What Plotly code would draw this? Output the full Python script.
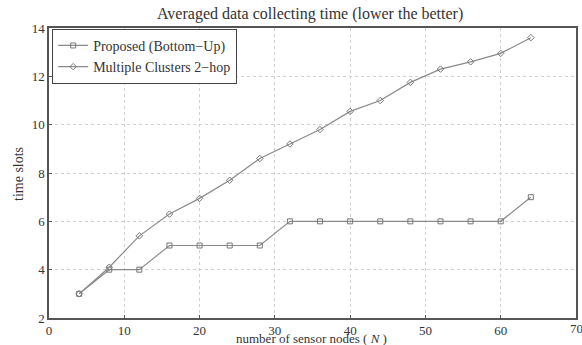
import plotly.graph_objects as go

x_nodes = [4, 8, 12, 16, 20, 24, 28, 32, 36, 40, 44, 48, 52, 56, 60, 64]
proposed = [3, 4, 4, 5, 5, 5, 5, 6, 6, 6, 6, 6, 6, 6, 6, 7]
multi_2hop = [3, 4.1, 5.4, 6.3, 6.95, 7.7, 8.6, 9.2, 9.8, 10.55, 11.0, 11.75, 12.3, 12.6, 12.95, 13.6]
x_ticks = [0, 10, 20, 30, 40, 50, 60, 70]
y_ticks = [2, 4, 6, 8, 10, 12, 14]

font_family = "Liberation Serif, Times New Roman, serif"
line_col = "#8a8a8a"
txt_col = "#333333"

fig = go.Figure()
fig.add_trace(go.Scatter(
    x=x_nodes, y=proposed, mode="lines+markers", name="Proposed (Bottom\u2212Up)",
    line=dict(color=line_col, width=1.2),
    marker=dict(symbol="square-open", size=5, color="#777777", line=dict(width=1)),
))
fig.add_trace(go.Scatter(
    x=x_nodes, y=multi_2hop, mode="lines+markers", name="Multiple Clusters 2\u2212hop",
    line=dict(color=line_col, width=1.2),
    marker=dict(symbol="diamond-open", size=5, color="#777777", line=dict(width=1)),
))

fig.update_layout(
    width=582, height=345,
    margin=dict(l=49, r=6, t=28, b=27, autoexpand=False),
    paper_bgcolor="white", plot_bgcolor="white",
    font=dict(family=font_family, size=13, color=txt_col),
    showlegend=True,
    legend=dict(x=0.006, y=0.997, xanchor="left", yanchor="top",
                bgcolor="white", bordercolor="#444444", borderwidth=1,
                font=dict(size=14, family=font_family, color=txt_col),
                tracegroupgap=0, itemwidth=30),
    annotations=[
        dict(text="Averaged data collecting time (lower the better)", xref="paper", yref="paper",
             x=(310 - 49) / 527, y=1 + 14 / 290, xanchor="center", yanchor="middle", showarrow=False,
             font=dict(size=16, family=font_family, color=txt_col)),
        dict(text="number of sensor nodes ( <i>N</i> )", xref="paper", yref="paper",
             x=(311 - 49) / 527, y=-20.5 / 290, xanchor="center", yanchor="middle", showarrow=False,
             font=dict(size=13, family=font_family, color=txt_col)),
        dict(text="time slots", xref="paper", yref="paper", textangle=-90,
             x=-31 / 527, y=(318 - 174) / 290, xanchor="center", yanchor="middle", showarrow=False,
             font=dict(size=14, family=font_family, color=txt_col)),
        dict(text=str(x_ticks[-1]), xref="x", yref="paper", x=x_ticks[-1], y=0,
             xanchor="center", yanchor="top", yshift=-1, showarrow=False,
             font=dict(size=13, family=font_family, color=txt_col)),
    ],
)
fig.update_xaxes(
    range=[0, 70], tickvals=x_ticks, ticks="inside", ticklen=3, tickcolor="#555555",
    showgrid=True, gridcolor="#d0d0d0", griddash="dot", gridwidth=1,
    showline=True, linecolor="#555555", linewidth=1.5, mirror=True,
    zeroline=False, tickfont=dict(size=13), automargin=False,
)
fig.update_yaxes(
    range=[2, 14], tickvals=y_ticks, ticks="inside", ticklen=3, tickcolor="#555555",
    showgrid=True, gridcolor="#d0d0d0", griddash="dot", gridwidth=1,
    showline=True, linecolor="#555555", linewidth=1.5, mirror=True,
    zeroline=False, tickfont=dict(size=13), automargin=False,
)

fig.write_html("out.html", config={"displayModeBar": False},
               post_script="document.body.style.margin='0';")
